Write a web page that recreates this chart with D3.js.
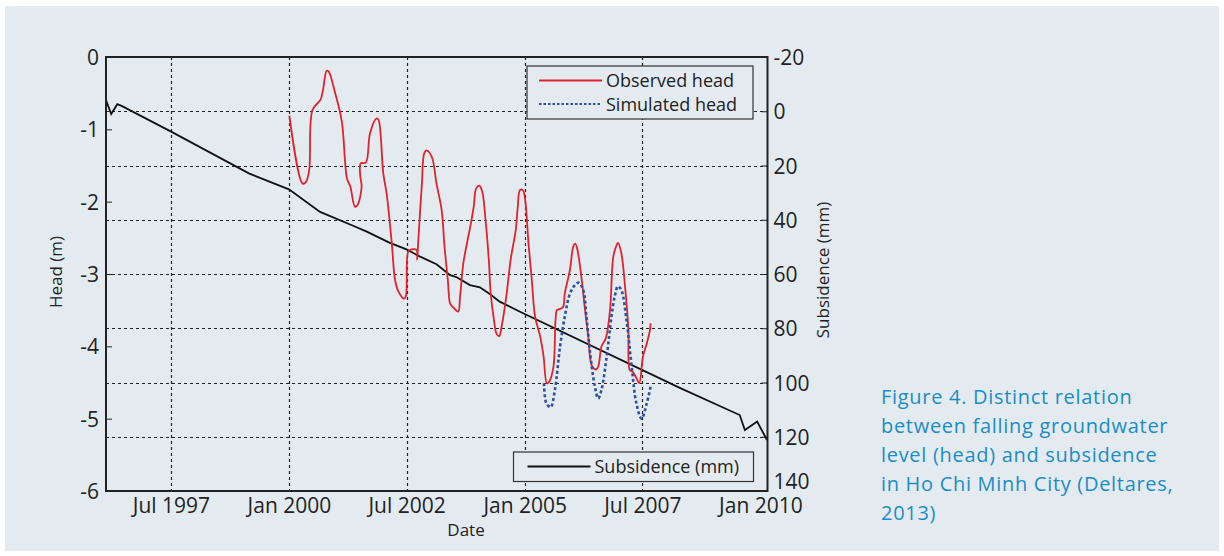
<!DOCTYPE html>
<html>
<head>
<meta charset="utf-8">
<script src="https://cdn.jsdelivr.net/npm/d3@7"></script>
<style>
  html, body { margin: 0; padding: 0; background: #ffffff; }
  svg { display: block; font-family: "Open Sans", sans-serif; }
  .axis { font-family: "Open Sans", sans-serif; }
  .tick text { font-size: 21px; fill: #222; }
  .axis path, .axis line { stroke: #222; }
</style>
</head>
<body>
<svg id="chart" width="1224" height="556"></svg>
<script>

// Observed head (m), time as decimal year
const obsYear = [2000.01, 2000.29, 2000.36, 2000.43, 2000.50, 2000.67, 2000.72, 2000.80, 2000.84, 2000.98,
  2001.12, 2001.23, 2001.30, 2001.40, 2001.45, 2001.54, 2001.51, 2001.52, 2001.63, 2001.72, 2001.86, 2001.90,
  2002.00, 2002.07, 2002.18, 2002.25, 2002.32, 2002.44, 2002.48, 2002.53, 2002.60, 2002.71, 2002.72, 2002.74,
  2002.82, 2002.87, 2002.92, 2003.03, 2003.13, 2003.24, 2003.30, 2003.37, 2003.42, 2003.47, 2003.59, 2003.63,
  2003.70, 2003.79, 2003.84, 2003.92, 2003.97, 2004.04, 2004.10, 2004.17, 2004.24, 2004.28, 2004.35, 2004.40,
  2004.46, 2004.51, 2004.61, 2004.70, 2004.81, 2004.85, 2004.90, 2004.96, 2005.01, 2005.08, 2005.15, 2005.22,
  2005.33, 2005.40, 2005.47, 2005.52, 2005.61, 2005.68, 2005.71, 2005.81, 2005.85, 2005.96, 2006.03, 2006.07,
  2006.11, 2006.21, 2006.28, 2006.35, 2006.42, 2006.51, 2006.56, 2006.63, 2006.72, 2006.81, 2006.88, 2006.95,
  2006.98, 2007.05, 2007.13, 2007.20, 2007.23, 2007.29, 2007.37, 2007.43, 2007.51, 2007.59, 2007.66, 2007.67];
const obsHead = [-0.81, -1.75, -1.73, -1.56, -0.73, -0.59, -0.46, -0.19, -0.20, -0.50,
  -0.89, -1.68, -1.79, -2.07, -2.05, -1.80, -1.63, -1.47, -1.46, -1.05, -0.85, -0.87,
  -1.61, -1.88, -2.57, -3.08, -3.24, -3.34, -3.31, -2.69, -2.66, -2.67, -2.80, -2.58,
  -1.75, -1.33, -1.29, -1.38, -1.75, -2.12, -2.62, -3.08, -3.41, -3.45, -3.52, -3.31,
  -2.85, -2.53, -2.37, -2.07, -1.82, -1.78, -1.86, -2.25, -2.81, -3.27, -3.64, -3.82,
  -3.86, -3.73, -3.31, -2.81, -2.39, -2.09, -1.84, -1.84, -1.98, -2.58, -3.08, -3.59,
  -3.87, -4.14, -4.51, -4.49, -4.28, -3.50, -3.49, -3.46, -3.27, -2.94, -2.62, -2.58,
  -2.64, -3.08, -3.50, -3.87, -4.26, -4.32, -4.28, -4.00, -3.89, -3.50, -2.76, -2.60,
  -2.57, -2.71, -3.18, -3.77, -4.33, -4.35, -4.44, -4.51, -4.14, -3.96, -3.77, -3.68];

// Simulated head (m)
const simYear = [2005.41, 2005.46, 2005.55, 2005.64, 2005.75, 2005.85, 2005.96, 2006.07, 2006.15, 2006.24,
  2006.31, 2006.38, 2006.49, 2006.56, 2006.63, 2006.74, 2006.84, 2006.91, 2006.98, 2007.05,
  2007.16, 2007.27, 2007.37, 2007.48, 2007.59, 2007.67];
const simHead = [-4.51, -4.79, -4.84, -4.60, -4.00, -3.59, -3.27, -3.15, -3.12, -3.22,
  -3.59, -4.05, -4.56, -4.72, -4.60, -4.14, -3.59, -3.31, -3.17, -3.22,
  -3.64, -4.28, -4.79, -5.00, -4.79, -4.56];

// Subsidence (mm), right axis
const subYear = [1996.12, 1996.23, 1996.36, 1996.46, 1997.50, 1999.15, 2000.00, 2000.66, 2001.36, 2001.65,
  2002.14, 2002.48, 2002.76, 2003.13, 2003.42, 2003.56, 2003.84, 2004.05, 2004.26, 2004.47, 2004.90,
  2008.29, 2009.56, 2009.67, 2009.93, 2010.14];
const subMm = [-4.1, 1.0, -2.6, -1.9, 7.5, 22.9, 28.8, 37.1, 42.2, 44.4,
  48.5, 50.8, 53.4, 56.4, 60.4, 61.2, 64.1, 64.9, 67.4, 70.2, 73.9,
  102.0, 112.0, 117.5, 114.4, 121.2];

const xDomain = [1996.12, 2010.15];
const xTicks = ["1997-07", "2000-01", "2002-07", "2005-01", "2007-07", "2010-01"];
const headTicks = [0, -1, -2, -3, -4, -5, -6];
const subTicks = [-20, 0, 20, 40, 60, 80, 100, 120, 140];
const captionLines = ["Figure 4. Distinct relation", "between falling groundwater",
  "level (head) and subsidence", "in Ho Chi Minh City (Deltares,", "2013)"];

// decimal year -> Date
function yearToDate(y) {
    const yr = Math.floor(y);
    const a = Date.UTC(yr, 0, 1), b = Date.UTC(yr + 1, 0, 1);
    return new Date(a + (y - yr) * (b - a));
}

const svg = d3.select("#chart");
const margin = {left: 106, right: 767.5, top: 57, bottom: 491};
const W = margin.right - margin.left, H = margin.bottom - margin.top;

// panel background
svg.append("rect").attr("x", 5).attr("y", 6).attr("width", 1214).attr("height", 545).attr("fill", "#e3ebf1");

const g = svg.append("g").attr("transform", `translate(${margin.left},${margin.top})`);

const x = d3.scaleUtc().domain(xDomain.map(yearToDate)).range([0, W]);
const yHead = d3.scaleLinear().domain([-6, 0]).range([H, 0]);
const ySub = d3.scaleLinear().domain([140, -20]).range([H, 0]);

// grid
const parseMonth = d3.utcParse("%Y-%m");
const xTickDates = xTicks.map(parseMonth);
g.append("g").selectAll("line")
    .data(xTickDates.filter(d => x(d) < W - 10))
    .join("line")
    .attr("x1", d => Math.round(x(d)) + 0.5).attr("x2", d => Math.round(x(d)) + 0.5)
    .attr("y1", 0).attr("y2", H)
    .attr("stroke", "#222").attr("stroke-width", 1.2).attr("stroke-dasharray", "3,3");
g.append("g").selectAll("line")
    .data(subTicks.filter(d => d > -20 && d < 140))
    .join("line")
    .attr("x1", 0).attr("x2", W)
    .attr("y1", d => Math.round(ySub(d)) + 0.5).attr("y2", d => Math.round(ySub(d)) + 0.5)
    .attr("stroke", "#222").attr("stroke-width", 1.2).attr("stroke-dasharray", "3,3");

// axes
const plain = d => String(d);
const axL = g.append("g").attr("class", "axis")
    .call(d3.axisLeft(yHead).tickValues(headTicks).tickSize(-6).tickPadding(7).tickFormat(plain));
const axR = g.append("g").attr("class", "axis").attr("transform", `translate(${W},0)`)
    .call(d3.axisRight(ySub).tickValues(subTicks).tickSize(-6).tickPadding(6).tickFormat(plain));
const axB = g.append("g").attr("class", "axis").attr("transform", `translate(0,${H})`)
    .call(d3.axisBottom(x).tickValues(xTickDates).tickSize(0).tickPadding(7).tickFormat(d3.utcFormat("%b %Y")));
[axL, axR, axB].forEach(a => a.attr("font-family", null).attr("font-size", null).select(".domain").remove());
axL.selectAll(".tick text").attr("dy", "0.36em");
axR.selectAll(".tick text").attr("dy", "0.36em");
// lowest right label sits above the corner
axR.selectAll(".tick").filter(d => d === 140).select("text").attr("dy", "-0.1em");

// lines
const subLine = d3.line().x((d, i) => x(yearToDate(subYear[i]))).y(d => ySub(d));
const headLine = years => d3.line().x((d, i) => x(yearToDate(years[i]))).y(d => yHead(d)).curve(d3.curveCatmullRom.alpha(0.5));

g.append("path").datum(subMm).attr("d", subLine)
    .attr("fill", "none").attr("stroke", "#111").attr("stroke-width", 1.8);
g.append("path").datum(obsHead).attr("d", headLine(obsYear))
    .attr("fill", "none").attr("stroke", "#e1222b").attr("stroke-width", 1.8);
g.append("path").datum(simHead).attr("d", headLine(simYear))
    .attr("fill", "none").attr("stroke", "#2e4f9e").attr("stroke-width", 2.6).attr("stroke-dasharray", "3,2.5");

// frame
g.append("rect").attr("width", W).attr("height", H)
    .attr("fill", "none").attr("stroke", "#222").attr("stroke-width", 2);

// legends
const leg1 = svg.append("g").attr("transform", "translate(527,66)");
leg1.append("rect").attr("width", 226).attr("height", 53)
    .attr("fill", "#e3ebf1").attr("stroke", "#333").attr("stroke-width", 1.2);
leg1.append("line").attr("x1", 12).attr("x2", 75).attr("y1", 14.5).attr("y2", 14.5)
    .attr("stroke", "#e1222b").attr("stroke-width", 1.8);
leg1.append("line").attr("x1", 12).attr("x2", 75).attr("y1", 38).attr("y2", 38)
    .attr("stroke", "#2e4f9e").attr("stroke-width", 2).attr("stroke-dasharray", "2.5,2");
leg1.append("text").attr("x", 79).attr("y", 20.5).attr("font-size", 18).attr("fill", "#222").text("Observed head");
leg1.append("text").attr("x", 79).attr("y", 45).attr("font-size", 18).attr("fill", "#222").text("Simulated head");

const leg2 = svg.append("g").attr("transform", "translate(513.5,452)");
leg2.append("rect").attr("width", 240).attr("height", 29.5)
    .attr("fill", "#e3ebf1").attr("stroke", "#333").attr("stroke-width", 1.2);
leg2.append("line").attr("x1", 14).attr("x2", 77).attr("y1", 14.5).attr("y2", 14.5)
    .attr("stroke", "#111").attr("stroke-width", 1.8);
leg2.append("text").attr("x", 81).attr("y", 20.5).attr("font-size", 18).attr("fill", "#222").text("Subsidence (mm)");

// axis titles
svg.append("text").attr("transform", "translate(62,272) rotate(-90)").attr("text-anchor", "middle")
    .attr("font-size", 17).attr("fill", "#222").text("Head (m)");
svg.append("text").attr("transform", "translate(829,270) rotate(-90)").attr("text-anchor", "middle")
    .attr("font-size", 17).attr("fill", "#222").text("Subsidence (mm)");
svg.append("text").attr("x", 466).attr("y", 536).attr("text-anchor", "middle")
    .attr("font-size", 17).attr("fill", "#222").text("Date");

// caption
svg.append("g").selectAll("text").data(captionLines).join("text")
    .attr("x", 881).attr("y", (d, i) => 404 + i * 29)
    .attr("font-size", 20).attr("letter-spacing", 0.7).attr("fill", "#1b8dc4").text(d => d);

</script>
</body>
</html>
